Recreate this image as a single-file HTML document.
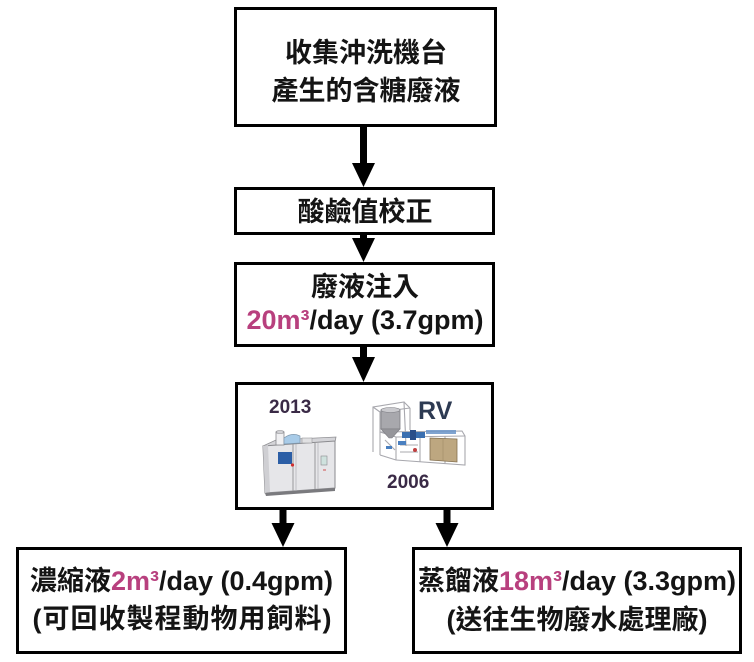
<!DOCTYPE html>
<html>
<head>
<meta charset="utf-8">
<style>
  html, body { margin:0; padding:0; background:#ffffff; }
  #page { position:relative; width:754px; height:662px; overflow:hidden; background:#fff; }
  svg { position:absolute; left:0; top:0; }
  .t {
    position:absolute;
    font-family:"Liberation Sans","Noto Sans CJK TC",sans-serif;
    font-weight:bold;
    font-size:27px;
    line-height:36px;
    height:36px;
    color:#141414;
    text-align:center;
    white-space:nowrap;
  }
  .pk { color:#b8407e; }
  .yr {
    position:absolute;
    font-family:"Liberation Sans","DejaVu Sans",sans-serif;
    font-weight:bold;
    white-space:nowrap;
  }
</style>
</head>
<body>
<div id="page">
<svg width="754" height="662" viewBox="0 0 754 662" xmlns="http://www.w3.org/2000/svg">
  <g fill="none" stroke="#000" stroke-width="3">
    <rect x="235.5" y="8.5" width="260" height="117"/>
    <rect x="235.5" y="188.5" width="258" height="45"/>
    <rect x="235.5" y="263.5" width="258" height="82"/>
    <rect x="236.5" y="383.5" width="256" height="125"/>
    <rect x="17.5" y="548.5" width="328" height="104"/>
    <rect x="413.5" y="548.5" width="327" height="104"/>
  </g>
  <g fill="#000">
    <rect x="360" y="127" width="7" height="37"/>
    <polygon points="352,163 375,163 363.5,187"/>
    <rect x="360" y="234" width="7" height="5"/>
    <polygon points="352,238 375,238 363.5,262"/>
    <rect x="360" y="346" width="7" height="12"/>
    <polygon points="352,357 375,357 363.5,382"/>
    <rect x="279.5" y="509" width="7" height="15"/>
    <polygon points="271.5,523 294.5,523 283,547"/>
    <rect x="443.5" y="509" width="7" height="15"/>
    <polygon points="435.5,523 458.5,523 447,547"/>
  </g>

  <!-- Left machine (2013) -->
  <g>
    <polygon points="263,446 276,440 336,437 335,442 264,447" fill="#d4d4d8" stroke="#909094" stroke-width="0.8"/>
    <polygon points="263,446 335,441 335,488 265,493" fill="#e6e6e9" stroke="#8a8a8e" stroke-width="1"/>
    <polygon points="263,446 268,445 270,492 265,493" fill="#cfcfd3"/>
    <line x1="293" y1="444" x2="293" y2="491" stroke="#98989c" stroke-width="1"/>
    <line x1="296" y1="444" x2="296" y2="491" stroke="#b4b4b8" stroke-width="0.8"/>
    <line x1="315" y1="443" x2="315" y2="489" stroke="#98989c" stroke-width="1"/>
    <line x1="318" y1="443" x2="318" y2="489" stroke="#b4b4b8" stroke-width="0.8"/>
    <rect x="278" y="452" width="14" height="12" fill="#2b5ea6"/>
    <circle cx="292.5" cy="465" r="1.6" fill="#d03030"/>
    <rect x="321" y="456" width="6" height="9" fill="#cfe2de" stroke="#8a8a8e" stroke-width="0.6"/>
    <line x1="323" y1="470" x2="326" y2="470" stroke="#d05050" stroke-width="1"/>
    <polygon points="265,493 335,488 335,491 266,496" fill="#7a7a7e"/>
    <rect x="276" y="432" width="8" height="13" fill="#f0f0f2" stroke="#8a8a8e" stroke-width="0.8"/>
    <ellipse cx="280" cy="432" rx="4" ry="1.5" fill="#d0d0d4" stroke="#8a8a8e" stroke-width="0.6"/>
    <path d="M284,438 Q292,432 300,436 L300,443 L284,444 Z" fill="#a8cbe8" stroke="#7f98ae" stroke-width="0.7"/>
    <rect x="302" y="438" width="10" height="5" fill="#e0e0e2" stroke="#98989c" stroke-width="0.6"/>
  </g>

  <!-- Right machine (RV) -->
  <g>
    <g fill="none" stroke="#a8a8ae" stroke-width="1.1">
      <polyline points="373,452 373,407 404,402 406,446"/>
      <line x1="373" y1="407" x2="380" y2="412"/>
      <line x1="404" y1="402" x2="410" y2="408"/>
      <line x1="380" y1="412" x2="380" y2="455"/>
      <line x1="410" y1="408" x2="410" y2="430"/>
      <line x1="380" y1="412" x2="410" y2="408"/>
      <polyline points="380,432 462,431 465,436 465,465 396,460 380,455"/>
      <line x1="396" y1="437" x2="465" y2="436"/>
      <line x1="396" y1="437" x2="396" y2="460"/>
      <line x1="380" y1="432" x2="396" y2="437"/>
      <line x1="420" y1="437" x2="420" y2="462"/>
      <line x1="445" y1="436" x2="445" y2="463"/>
      <line x1="385" y1="440" x2="395" y2="450"/>
      <line x1="400" y1="445" x2="418" y2="445"/>
      <line x1="400" y1="452" x2="418" y2="452"/>
    </g>
    <rect x="381" y="410" width="19" height="19" fill="#a8a8ad" stroke="#7e7e84" stroke-width="0.8"/>
    <ellipse cx="390.5" cy="410" rx="9.5" ry="2.5" fill="#cacace" stroke="#7e7e84" stroke-width="0.6"/>
    <polygon points="381,429 400,429 392,438 389,438" fill="#96969b" stroke="#7e7e84" stroke-width="0.6"/>
    <rect x="402" y="432" width="23" height="6" fill="#3a6fb0"/>
    <rect x="410" y="430" width="6" height="10" fill="#2a4f8a"/>
    <rect x="398" y="441" width="8" height="4" fill="#4a80c0"/>
    <rect x="426" y="430" width="30" height="4" fill="#6a94c8" opacity="0.85"/>
    <rect x="386" y="446" width="6" height="3" fill="#4a80c0"/>
    <circle cx="415" cy="450" r="2" fill="#c04040"/>
    <polygon points="430,438 457,439 457,462 430,460" fill="#bda780" stroke="#857150" stroke-width="0.8"/>
    <line x1="443" y1="439" x2="443" y2="461" stroke="#a08c66" stroke-width="0.6"/>
  </g>
</svg>

<div class="t" style="left:236px;width:260px;top:35px;">收集沖洗機台</div>
<div class="t" style="left:236px;width:260px;top:73px;">產生的含糖廢液</div>

<div class="t" style="left:236px;width:258px;top:194px;">酸鹼值校正</div>

<div class="t" style="left:236px;width:258px;top:269px;">廢液注入</div>
<div class="t" style="left:236px;width:258px;top:302px;"><span class="pk">20m³</span>/day (3.7gpm)</div>

<div class="yr" style="left:269px;top:397px;font-size:19px;line-height:22px;color:#3a2a46;">2013</div>
<div class="yr" style="left:418px;top:397px;font-size:25px;line-height:28px;color:#2d3a52;">RV</div>
<div class="yr" style="left:387px;top:472px;font-size:19px;line-height:22px;color:#3a2a46;">2006</div>

<div class="t" style="left:16px;width:331px;top:563px;">濃縮液<span class="pk">2m³</span>/day (0.4gpm)</div>
<div class="t" style="left:16px;width:331px;top:601px;letter-spacing:1px;padding-left:2px;box-sizing:border-box;">(可回收製程動物用飼料)</div>

<div class="t" style="left:412px;width:330px;top:563px;"><span>蒸餾液</span><span class="pk">18m³</span>/day (3.3gpm)</div>
<div class="t" style="left:412px;width:330px;top:602px;">(送往生物廢水處理廠)</div>
</div>
</body>
</html>
